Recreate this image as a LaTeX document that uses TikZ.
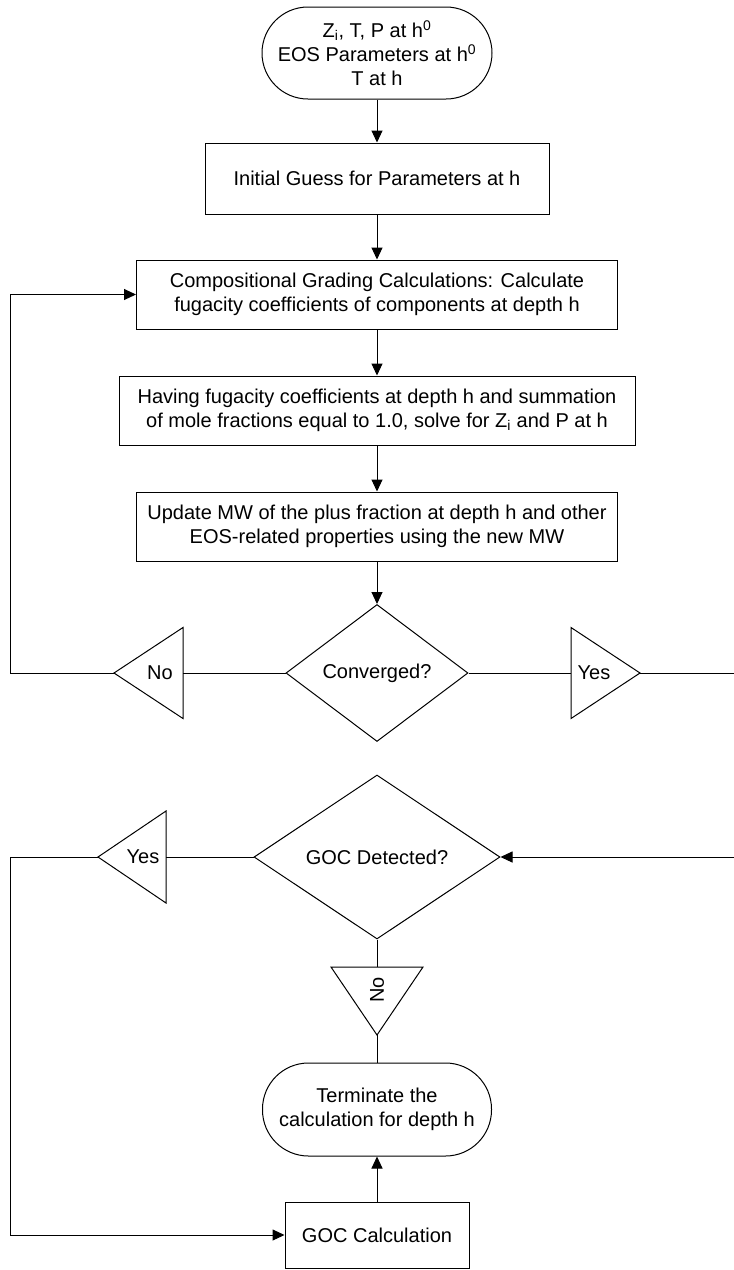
\documentclass[tikz,border=0pt]{standalone}
\usepackage{fontspec}
\setmainfont{Liberation Sans}
\usetikzlibrary{arrows.meta,shapes.geometric}
\begin{document}
\begin{tikzpicture}[x=1pt,y=-1pt,
  every node/.style={font=\fontsize{20}{24}\selectfont, align=center, inner sep=0pt},
  proc/.style={draw, fill=white, line width=1pt},
  term/.style={draw, fill=white, line width=1pt, rounded corners=46pt},
  dec/.style={draw, fill=white, diamond, line width=1pt},
  flagbox/.style={inner sep=0pt, outer sep=0pt},
  flagline/.style={line width=1pt, line join=miter},
  conn/.style={line width=1pt},
  arr/.style={conn, -{Triangle[length=12pt,width=11pt]}}
]
\clip (0,0) rectangle (734,1270);
\fill[white] (0,0) rectangle (734,1270);

% main column
\node[term, minimum width=230pt, minimum height=92pt] (start) at (377,53)
  {Z\textsubscript{i}, T, P at h\textsuperscript{0}\\EOS Parameters at h\textsuperscript{0}\\T at h};
\node[proc, minimum width=344pt, minimum height=71pt] (box1) at (377,178.5)
  {Initial Guess for Parameters at h};
\node[proc, minimum width=481pt, minimum height=69pt] (box2) at (377,294.5)
  {Compositional Grading Calculations: Calculate\\fugacity coefficients of components at depth h};
\node[proc, minimum width=516pt, minimum height=69pt] (box3) at (377,410.5)
  {Having fugacity coefficients at depth h and summation\\of mole fractions equal to 1.0, solve for Z\textsubscript{i} and P at h};
\node[proc, minimum width=481pt, minimum height=69pt] (box4) at (377,526.5)
  {Update MW of the plus fraction at depth h and other\\EOS-related properties using the new MW};
\node[dec, minimum width=182pt, minimum height=137pt] (conv) at (377,673) {Converged?};

% flags of the first decision
\node[flagbox, minimum width=69pt, minimum height=91pt] (no1) at (148.5,673) {};
\draw[flagline] (no1.north east) -- (no1.south east) -- (no1.west) -- cycle;
\node (no1t) at (160,673) {No};
\node[flagbox, minimum width=69pt, minimum height=91pt] (yes1) at (605.5,673) {};
\draw[flagline] (yes1.north west) -- (yes1.south west) -- (yes1.east) -- cycle;
\node (yes1t) at (594,673) {Yes};

% second decision
\node[dec, minimum width=246pt, minimum height=164pt] (goc) at (377,857) {GOC Detected?};
\node[flagbox, minimum width=68pt, minimum height=92pt] (yes2) at (132,857) {};
\draw[flagline] (yes2.north east) -- (yes2.south east) -- (yes2.west) -- cycle;
\node (yes2t) at (143,857) {Yes};
\node[flagbox, minimum width=92pt, minimum height=68pt] (no2) at (377,1001) {};
\draw[flagline] (no2.north west) -- (no2.north east) -- (no2.south) -- cycle;
\node[rotate=90] (no2t) at (377,990) {No};

\node[term, minimum width=229pt, minimum height=93pt] (term2) at (377,1109.5)
  {Terminate the\\calculation for depth h};
\node[proc, minimum width=184pt, minimum height=66pt] (gocbox) at (377,1235)
  {GOC Calculation};

% routing corners
\coordinate (L1) at (10,673);
\coordinate (R1) at (760,673);
\coordinate (L2) at (10,857);

% connectors
\draw[arr] (start.south) -- (box1.north);
\draw[arr] (box1.south) -- (box2.north);
\draw[arr] (box2.south) -- (box3.north);
\draw[arr] (box3.south) -- (box4.north);
\draw[arr] (box4.south) -- (conv.north);
\draw[conn] (conv.west) -- (no1.east);
\draw[arr] (no1.west) -- (L1) |- (box2.west);
\draw[conn] (conv.east) -- (yes1.west);
\draw[arr] (yes1.east) -- (R1) |- (goc.east);
\draw[conn] (goc.west) -- (yes2.east);
\draw[arr] (yes2.west) -- (L2) |- (gocbox.west);
\draw[conn] (goc.south) -- (no2.north);
\draw[conn] (no2.south) -- (term2.north);
\draw[arr] (gocbox.north) -- (term2.south);
\end{tikzpicture}
\end{document}
